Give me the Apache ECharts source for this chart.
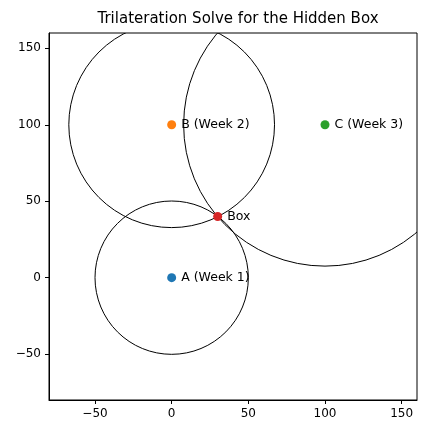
<!DOCTYPE html>
<html>
<head>
<meta charset="utf-8">
<script src="https://cdn.jsdelivr.net/npm/echarts@6/dist/echarts.min.js"></script>
<style>html,body{margin:0;padding:0;background:#fff}#chart{width:428px;height:435px}</style>
</head>
<body>
<div id="chart"></div>
<script>
const pointNames = ["A (Week 1)", "B (Week 2)", "C (Week 3)", "Box"];
const pointX = [0, 0, 100, 30];
const pointY = [0, 100, 100, 40];
const pointColors = ["#1f77b4", "#ff7f0e", "#2ca02c", "#d62728"];
// circles: center x, center y, radius (distances to the box)
const circleX = [0, 0, 100];
const circleY = [0, 100, 100];
const circleR = [50, 67.08, 92.2];
const tickValues = [-50, 0, 50, 100, 150];

const chart = echarts.init(document.getElementById("chart"));

const axisCommon = {
  type: "value",
  min: -80,
  max: 160,
  interval: 50,
  splitLine: { show: false },
  axisLine: { show: true, onZero: false, lineStyle: { color: "#000" } },
  axisTick: { show: true, inside: false, length: 4, lineStyle: { color: "#000" }, customValues: tickValues },
  axisLabel: {
    color: "#000", fontSize: 12, fontFamily: "DejaVu Sans", customValues: tickValues,
    formatter: (v) => String(v).replace("-", "\u2212"),
  },
};

chart.setOption({
  animation: false,
  title: {
    text: "Trilateration Solve for the Hidden Box",
    left: 233,
    textAlign: "center",
    top: 7,
    textStyle: { fontSize: 15, fontWeight: "normal", color: "#000", fontFamily: "DejaVu Sans" },
  },
  grid: { left: 49, top: 33, width: 368, height: 367, show: true, borderColor: "#000", borderWidth: 1 },
  xAxis: axisCommon,
  yAxis: axisCommon,
  series: [
    {
      type: "custom",
      data: circleX.map((x, i) => [x, circleY[i], circleR[i]]),
      renderItem: (params, api) => {
        const c = api.coord([api.value(0), api.value(1)]);
        const r = api.size([api.value(2), 0])[0];
        const cs = params.coordSys;
        return {
          type: "circle",
          shape: { cx: c[0], cy: c[1], r: r },
          style: { fill: "none", stroke: "#000", lineWidth: 1 },
          clipPath: { type: "rect", shape: { x: cs.x, y: cs.y, width: cs.width, height: cs.height } },
        };
      },
      z: 1,
    },
    {
      type: "scatter",
      symbolSize: 9,
      data: pointX.map((x, i) => ({
        value: [x, pointY[i]],
        name: pointNames[i],
        itemStyle: { color: pointColors[i], opacity: 1 },
      })),
      label: {
        show: true,
        position: "right",
        distance: 5,
        formatter: "{b}",
        color: "#000",
        fontSize: 12.5,
        fontFamily: "DejaVu Sans",
      },
      z: 3,
    },
  ],
});
</script>
</body>
</html>
